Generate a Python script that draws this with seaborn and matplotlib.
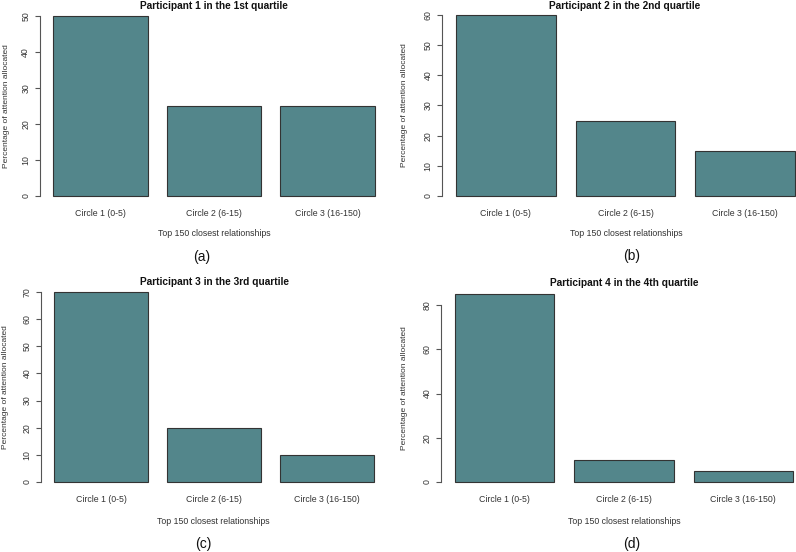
import matplotlib
matplotlib.use("Agg")
import matplotlib.pyplot as plt
import seaborn as sns
import pandas as pd

sns.set_style("white")
plt.rcParams['font.family'] = ['Liberation Sans', 'DejaVu Sans']

categories = ["Circle 1 (0-5)", "Circle 2 (6-15)", "Circle 3 (16-150)"]
p1_values = [50, 25, 25]
p2_values = [60, 25, 15]
p3_values = [70, 20, 10]
p4_values = [85, 10, 5]
titles = ["Participant 1 in the 1st quartile", "Participant 2 in the 2nd quartile",
          "Participant 3 in the 3rd quartile", "Participant 4 in the 4th quartile"]
panel_tags = ["(a)", "(b)", "(c)", "(d)"]
yticks_list = [list(range(0, 51, 10)), list(range(0, 61, 10)),
               list(range(0, 71, 10)), list(range(0, 81, 20))]
xlabel = "Top 150 closest relationships"
ylabel = "Percentage of attention allocated"

W, H = 796, 552
fig = plt.figure(figsize=(W / 100, H / 100), dpi=100)

# pixel geometry: (bar_left, bar_right, y0_px, ymax_px, ymax_value)
geom = [
    (53, 375, 196, 16, 50),
    (456, 795, 196, 15, 60),
    (54, 374, 482, 292, 70),
    (455, 793, 482, 294, 85),
]
# text placement in pixels
title_pos = [(214, 6), (625, 6), (214, 282), (624, 283)]
xlab_pos = [(214, 234), (626, 234), (213, 522), (624, 522)]
tag_pos = [(202, 257), (632, 256), (203, 544), (632, 544)]
ylab_x = [9.5, 408.5, 9.5, 407.5]

values_all = [p1_values, p2_values, p3_values, p4_values]
bw = 1 / 1.2
half = bw / 2
fs = 6.3

for i, (vals, (L, R, y0, ym, vmax)) in enumerate(zip(values_all, geom)):
    span = R - L
    pad = 0.04 * span
    left_px = L - pad
    right_px = R + pad
    pxu = (y0 - ym) / vmax
    ypad = 0.04 * vmax
    top_px = ym - ypad * pxu
    bot_px = y0 + ypad * pxu
    ax = fig.add_axes([left_px / W, 1 - bot_px / H, (right_px - left_px) / W, (bot_px - top_px) / H])
    df = pd.DataFrame({"circle": categories, "pct": vals})
    sns.barplot(data=df, x="circle", y="pct", ax=ax, color="#53868B", saturation=1,
                width=bw, edgecolor="#333333", linewidth=0.8)
    xr = (2 + half) - (-half)
    ax.set_xlim(-half - 0.04 * xr, 2 + half + 0.04 * xr)
    ax.set_ylim(-ypad, vmax + ypad)
    for s in ["top", "right", "bottom"]:
        ax.spines[s].set_visible(False)
    ax.spines["left"].set_color("#555555")
    ax.spines["left"].set_linewidth(0.8)
    ticks = yticks_list[i]
    ax.spines["left"].set_bounds(ticks[0], ticks[-1])
    ax.set_yticks(ticks)
    ax.set_yticklabels([str(t) for t in ticks], rotation=90, va="center", fontsize=fs, color="#333333")
    ax.tick_params(axis="y", length=3.6, width=0.8, color="#555555", pad=3.5, left=True)
    ax.tick_params(axis="x", length=0, pad=4, labelsize=fs, labelcolor="#333333")
    ax.set_xlabel("")
    ax.set_ylabel(ylabel, fontsize=6.0, color="#333333")
    ax.yaxis.set_label_coords((ylab_x[i] - left_px) / (right_px - left_px), 0.5)
    tx, ty = title_pos[i]
    fig.text(tx / W, 1 - ty / H, titles[i], ha="center", va="center", fontsize=7.3,
             fontweight="bold", color="#111111")
    lx, ly = xlab_pos[i]
    fig.text(lx / W, 1 - ly / H, xlabel, ha="center", va="center", fontsize=fs, color="#333333")
    gx, gy = tag_pos[i]
    fig.text(gx / W, 1 - gy / H, panel_tags[i], ha="center", va="center", fontsize=10, color="#111111")

fig.savefig("out.png", dpi=100)
